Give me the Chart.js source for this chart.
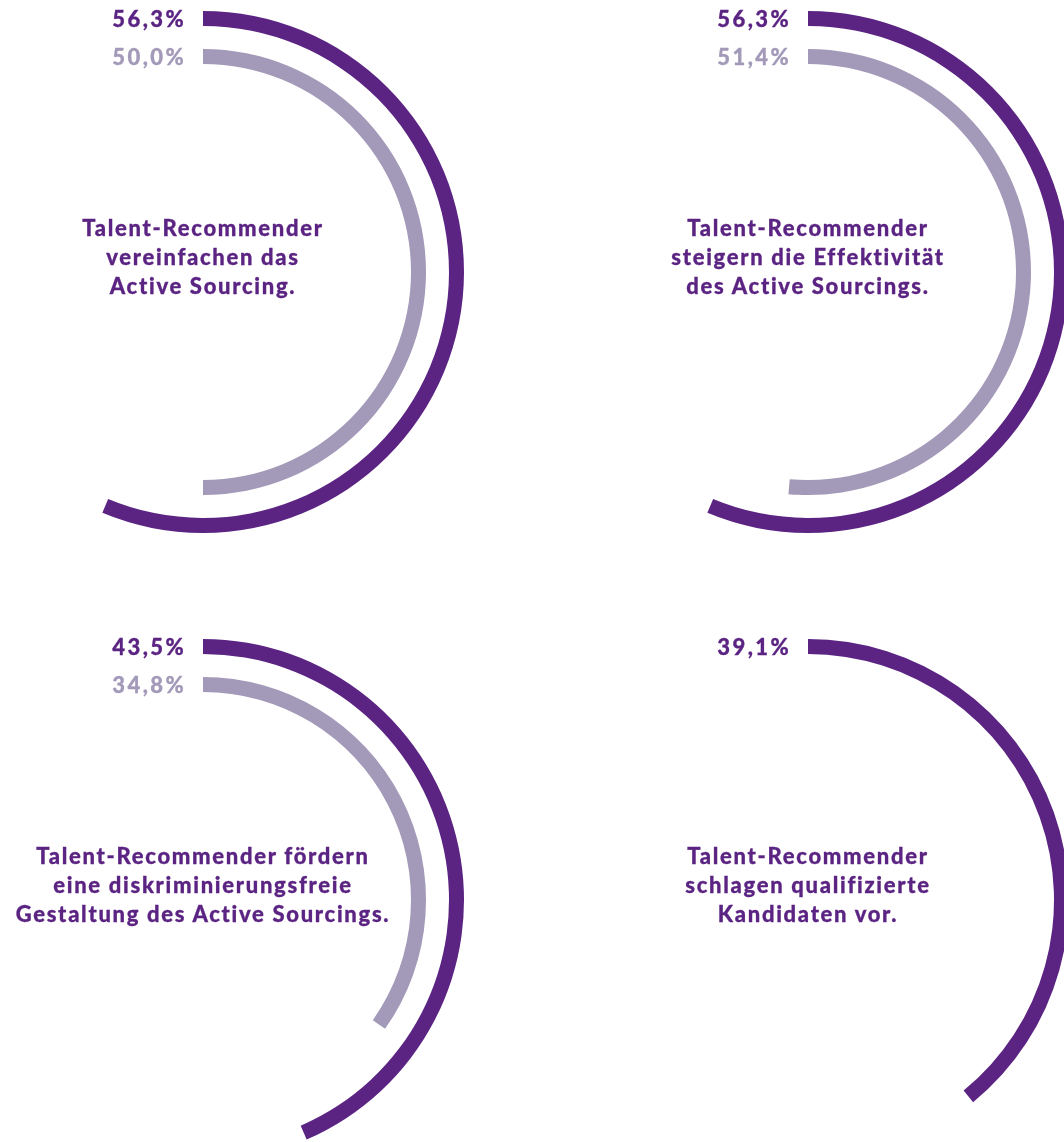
<!DOCTYPE html>
<html lang="de">
<head>
<meta charset="utf-8">
<title>Talent-Recommender im Active Sourcing</title>
<script src="https://cdn.jsdelivr.net/npm/chart.js@4/dist/chart.umd.min.js"></script>
<style>
  html, body { margin: 0; padding: 0; background: #ffffff; }
  body { width: 1064px; height: 1142px; position: relative; overflow: hidden;
         font-family: Lato, "Open Sans", sans-serif; font-weight: 900; }
  canvas.ring { position: absolute; }
  .pct { position: absolute; font-size: 22px; letter-spacing: 2.4px; line-height: 24px;
         text-align: right; white-space: nowrap; transform: translate(-100%, -50%);
         -webkit-text-stroke: 0.3px currentColor; }
  .statement { position: absolute; color: #5b2483; font-size: 22px; letter-spacing: 1.7px;
               line-height: 29px; text-align: center; white-space: nowrap;
               transform: translate(-50%, -50%); -webkit-text-stroke: 0.3px currentColor; }
</style>
</head>
<body>
<script>
// Aussagen (one block of text per ring chart)
const statements = [
  ["Talent-Recommender", "vereinfachen das", "Active Sourcing."],
  ["Talent-Recommender", "steigern die Effektivität", "des Active Sourcings."],
  ["Talent-Recommender fördern", "eine diskriminierungsfreie", "Gestaltung des Active Sourcings."],
  ["Talent-Recommender", "schlagen qualifizierte", "Kandidaten vor."]
];
// Outer ring values in percent
const outerValues = [56.3, 56.3, 43.5, 39.1];
// Inner ring values in percent (null = no inner ring)
const innerValues = [50.0, 51.4, 34.8, null];

const DARK = "#5b2483";
const LIGHT = "#a399b8";
const NONE = "rgba(0,0,0,0)";

// Ring geometry
const OUTER_R = 261;
const CUTOUT = 208;
const RING_W = 15;
const GAP_W = OUTER_R - CUTOUT - 2 * RING_W;
const centers = [[203, 272], [808, 272], [203, 900], [808, 900]];

function fmt(v) {
  return v.toFixed(1).replace(".", ",") + "%";
}

function addText(cls, text, x, y, color) {
  const d = document.createElement("div");
  d.className = cls;
  d.style.left = x + "px";
  d.style.top = y + "px";
  if (color) d.style.color = color;
  if (Array.isArray(text)) {
    text.forEach((line, i) => {
      if (i) d.appendChild(document.createElement("br"));
      d.appendChild(document.createTextNode(line));
    });
  } else {
    d.textContent = text;
  }
  document.body.appendChild(d);
}

centers.forEach(([cx, cy], i) => {
  const canvas = document.createElement("canvas");
  canvas.className = "ring";
  canvas.width = OUTER_R * 2;
  canvas.height = OUTER_R * 2;
  canvas.style.left = (cx - OUTER_R) + "px";
  canvas.style.top = (cy - OUTER_R) + "px";
  document.body.appendChild(canvas);

  const ov = outerValues[i];
  const iv = innerValues[i];

  new Chart(canvas, {
    type: "doughnut",
    data: {
      labels: ["Zustimmung", "Rest"],
      datasets: [
        { data: [ov, 100 - ov], backgroundColor: [DARK, NONE], weight: RING_W },
        { data: [0, 100], backgroundColor: [NONE, NONE], weight: GAP_W },
        { data: iv == null ? [0, 100] : [iv, 100 - iv], backgroundColor: [LIGHT, NONE], weight: RING_W }
      ]
    },
    options: {
      responsive: false,
      maintainAspectRatio: false,
      animation: false,
      events: [],
      cutout: CUTOUT,
      rotation: 0,
      circumference: 360,
      borderWidth: 0,
      hoverOffset: 0,
      spacing: 0,
      layout: { padding: 0 },
      plugins: { legend: { display: false }, tooltip: { enabled: false } }
    }
  });

  // value labels left of the ring starts
  addText("pct", fmt(ov), cx - 17, cy - (OUTER_R - RING_W / 2), DARK);
  if (iv != null) {
    addText("pct", fmt(iv), cx - 17, cy - (CUTOUT + RING_W / 2), LIGHT);
  }
  // statement in the middle of the rings
  addText("statement", statements[i], cx, cy - 16);
});
</script>
</body>
</html>
